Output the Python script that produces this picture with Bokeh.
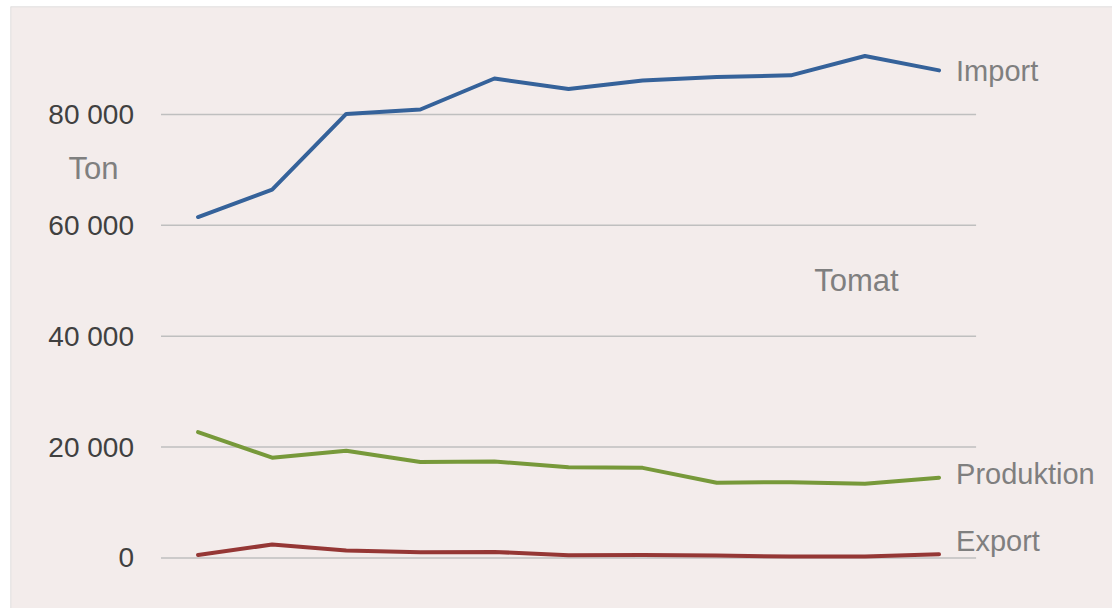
from bokeh.plotting import figure
from bokeh.models import Range1d, Label, Span, ColumnDataSource
from bokeh.core.properties import value
from bokeh.embed import file_html
from bokeh.resources import INLINE

# ---- data ----
PERIODS = list(range(11))
IMPORT = [61500, 66440, 80100, 80900, 86500, 84600, 86150, 86750, 87060, 90550, 87960]
PRODUKTION = [22710, 18080, 19350, 17290, 17410, 16350, 16250, 13560, 13670, 13380, 14470]
EXPORT = [540, 2400, 1320, 1010, 1080, 470, 540, 420, 240, 240, 650]
TICK_VALUES = [0, 20000, 40000, 60000, 80000]
TICK_LABELS = ["0", "20 000", "40 000", "60 000", "80 000"]
SERIES_NAMES = ["Import", "Produktion", "Export"]
UNIT = "Ton"
TITLE = "Tomat"

BG = "#F3ECEB"
FONT = "Liberation Sans"
COLORS = ["#35629A", "#77993A", "#953735"]
LABEL_GRAY = "#7F7F7F"

x0 = PERIODS[0] - 0.5
x1 = PERIODS[-1] + 0.5
X_START, X_END = -2.531, 12.341
Y_START, Y_END = -9129, 99486

p = figure(width=1112, height=608, output_backend="svg", toolbar_location=None,
           x_axis_location=None, y_axis_location=None,
           x_range=Range1d(X_START, X_END), y_range=Range1d(Y_START, Y_END),
           min_border_left=10, min_border_right=0, min_border_top=6, min_border_bottom=0,
           background_fill_color=BG, border_fill_color="white", outline_line_color=None)
p.xgrid.visible = False
p.ygrid.visible = False

# chart-area border (left and top)
p.add_layout(Span(location=X_START, dimension="height", line_color="#D9D9D9", line_width=1.5))
p.add_layout(Span(location=Y_END, dimension="width", line_color="#D9D9D9", line_width=1.5))

# gridlines and value labels
grid_src = ColumnDataSource(dict(x0=[x0] * len(TICK_VALUES), x1=[x1] * len(TICK_VALUES),
                                 y=TICK_VALUES, lab=TICK_LABELS))
p.segment(x0="x0", y0="y", x1="x1", y1="y", source=grid_src,
          line_color="#BFBFBF", line_width=1.5)
p.text(x="x0", y="y", text="lab", source=grid_src, x_offset=-27,
       text_font=value(FONT), text_font_size="28px", text_color="#404040",
       text_align="right", text_baseline="middle")

series = [IMPORT, PRODUKTION, EXPORT]
y_offsets = [-1, 4, 13]
for vals, col, name, yo in zip(series, COLORS, SERIES_NAMES, y_offsets):
    p.line(PERIODS, vals, line_color=col, line_width=4, line_cap="round", line_join="round")
    p.add_layout(Label(x=PERIODS[-1], y=vals[-1], text=name, x_offset=17, y_offset=yo,
                       text_font=FONT, text_font_size="29px", text_color=LABEL_GRAY,
                       text_baseline="middle", text_align="left"))

p.add_layout(Label(x=83, y=440, x_units="screen", y_units="screen", text=UNIT,
                   text_font=FONT, text_font_size="31px", text_color=LABEL_GRAY,
                   text_baseline="middle", text_align="center"))
p.add_layout(Label(x=846, y=328, x_units="screen", y_units="screen", text=TITLE,
                   text_font=FONT, text_font_size="31px", text_color=LABEL_GRAY,
                   text_baseline="middle", text_align="center"))

open("out.html", "w").write(file_html(p, INLINE))
